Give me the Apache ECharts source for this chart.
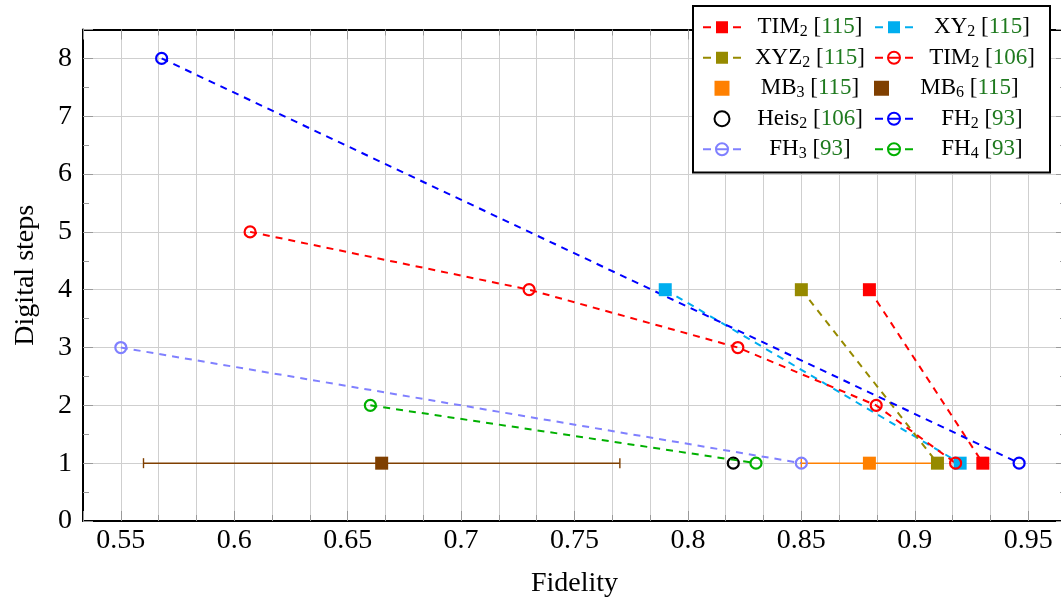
<!DOCTYPE html>
<html>
<head>
<meta charset="utf-8">
<script src="https://cdn.jsdelivr.net/npm/echarts@6/dist/echarts.min.js"></script>
<style>html,body{margin:0;padding:0;background:#fff}#c{width:1061px;height:597px}</style>
</head>
<body>
<div id="c"></div>
<script>
// ---- data (Fidelity, Digital steps) ----
const TIM2_115 = [[0.88, 4], [0.93, 1]];
const XY2_115 = [[0.79, 4], [0.92, 1]];
const XYZ2_115 = [[0.85, 4], [0.91, 1]];
const TIM2_106 = [[0.607, 5], [0.73, 4], [0.822, 3], [0.883, 2], [0.918, 1]];
const MB3_115 = [[0.88, 1]];
const MB3_err = [[0.85, 0.91, 1]];     // [low, high, steps]
const MB6_115 = [[0.665, 1]];
const MB6_err = [[0.56, 0.77, 1]];
const HEIS2_106 = [[0.82, 1]];
const FH2_93 = [[0.568, 8], [0.946, 1]];
const FH3_93 = [[0.55, 3], [0.85, 1]];
const FH4_93 = [[0.66, 2], [0.83, 1]];

// legend labels
const seriesNames = ['TIM2 [115]', 'XY2 [115]', 'XYZ2 [115]', 'TIM2 [106]', 'MB3 [115]', 'MB6 [115]', 'Heis2 [106]', 'FH2 [93]', 'FH3 [93]', 'FH4 [93]'];
const labelMain = ['TIM', 'XY', 'XYZ', 'TIM', 'MB', 'MB', 'Heis', 'FH', 'FH', 'FH'];
const labelSub = ['2', '2', '2', '2', '3', '6', '2', '2', '3', '4'];
const labelRef = ['115', '115', '115', '106', '115', '115', '106', '93', '93', '93'];

// axis settings
const xMin = 0.533333, xMax = 0.966667;
const yMin = 0, yMax = 8.5;

const FONT = '"Liberation Serif", "Times New Roman", serif';
const C = {
  red: '#ff0000', cyan: '#00aeef', olive: '#968a00', orange: '#ff8000',
  brown: '#7f3f00', black: '#000000', blue: '#0000ff', violet: '#8080ff', green: '#00b000'
};
const dash = [7, 6];
const SQUARE_ICON = 'path://M0 0H10V10H0Z';

function squareLine(name, data, color) {
  return {
    name, type: 'line', data, symbol: 'rect', symbolSize: 13, showSymbol: true,
    lineStyle: { color, width: 2, type: dash },
    itemStyle: { color, borderWidth: 0, opacity: 1 }, emphasis: { disabled: true }
  };
}
function circleLine(name, data, color) {
  return {
    name, type: 'line', data, symbol: 'circle', symbolSize: 11, showSymbol: true,
    lineStyle: { color, width: 2, type: dash },
    itemStyle: { color: 'rgba(255,255,255,0)', borderColor: color, borderWidth: 2.2, opacity: 1 },
    emphasis: { disabled: true }
  };
}
function errBar(data, color) {
  return {
    type: 'custom', data, z: 1, silent: true,
    renderItem: function (params, api) {
      const lo = api.coord([api.value(0), api.value(2)]);
      const hi = api.coord([api.value(1), api.value(2)]);
      const h = 5;
      const st = { stroke: color, lineWidth: 1.4 };
      return {
        type: 'group', children: [
          { type: 'line', shape: { x1: lo[0], y1: lo[1], x2: hi[0], y2: hi[1] }, style: st },
          { type: 'line', shape: { x1: lo[0], y1: lo[1] - h, x2: lo[0], y2: lo[1] + h }, style: st },
          { type: 'line', shape: { x1: hi[0], y1: hi[1] - h, x2: hi[0], y2: hi[1] + h }, style: st }
        ]
      };
    }
  };
}

const chart = echarts.init(document.getElementById('c'), null, { renderer: 'canvas' });
const tickStyle = { color: '#9a9a9a', width: 1 };
const gridLine = { color: '#cfcfcf', width: 1 };

const legendData = seriesNames.map(function (n, i) {
  return (i === 4 || i === 5) ? { name: n, icon: SQUARE_ICON } : { name: n };
});

const option = {
  animation: false,
  backgroundColor: '#ffffff',
  grid: { left: 83, top: 29.5, width: 983, height: 491.5, outerBoundsMode: 'none', containLabel: false },
  xAxis: [{
    type: 'value', position: 'bottom', min: xMin, max: xMax, splitNumber: 8,
    axisLine: { show: true, onZero: false, lineStyle: { color: '#000', width: 2 } },
    axisTick: { show: true, inside: true, length: 10, lineStyle: tickStyle },
    minorTick: { show: true, splitNumber: 3, length: 6, lineStyle: tickStyle },
    splitLine: { show: true, lineStyle: gridLine },
    minorSplitLine: { show: true, lineStyle: gridLine },
    axisLabel: { show: true, showMinLabel: false, showMaxLabel: false, margin: 6, fontSize: 28, fontFamily: FONT, color: '#000' },
    name: 'Fidelity', nameLocation: 'middle', nameGap: 49,
    nameTextStyle: { fontSize: 28, fontFamily: FONT, color: '#000' }
  }, {
    type: 'value', position: 'top', min: xMin, max: xMax, splitNumber: 8,
    axisLine: { show: true, onZero: false, lineStyle: { color: '#000', width: 2 } },
    axisTick: { show: true, inside: true, length: 10, lineStyle: tickStyle },
    minorTick: { show: true, splitNumber: 3, length: 6, lineStyle: tickStyle },
    splitLine: { show: false }, axisLabel: { show: false }
  }],
  yAxis: [{
    type: 'value', position: 'left', min: yMin, max: yMax, interval: 1,
    axisLine: { show: true, onZero: false, lineStyle: { color: '#000', width: 2 } },
    axisTick: { show: true, inside: true, length: 10, lineStyle: tickStyle },
    minorTick: { show: true, splitNumber: 2, length: 6, lineStyle: tickStyle },
    splitLine: { show: true, lineStyle: gridLine },
    axisLabel: { show: true, showMaxLabel: false, margin: 11, fontSize: 28, fontFamily: FONT, color: '#000' },
    name: 'Digital steps', nameLocation: 'middle', nameGap: 43, nameRotate: 90,
    nameTextStyle: { fontSize: 28, fontFamily: FONT, color: '#000' }
  }, {
    type: 'value', position: 'right', min: yMin, max: yMax, interval: 1,
    axisLine: { show: true, onZero: false, lineStyle: { color: '#000', width: 2 } },
    axisTick: { show: true, inside: true, length: 10, lineStyle: tickStyle },
    minorTick: { show: true, splitNumber: 2, length: 6, lineStyle: tickStyle },
    splitLine: { show: false }, axisLabel: { show: false }
  }],
  legend: {
    left: 693, top: 6, width: 360, orient: 'horizontal',
    padding: [6, 4, 8, 9], itemGap: 0, itemWidth: 38, itemHeight: 15,
    backgroundColor: '#ffffff', borderColor: '#000', borderWidth: 2, borderRadius: 0,
    selectedMode: false,
    lineStyle: { type: [8, 6, 10, 6], width: 2 },
    data: legendData,
    formatter: function (name) {
      const i = seriesNames.indexOf(name);
      return '{n|' + labelMain[i] + '}{s|' + labelSub[i] + '}{n| [}{c|' + labelRef[i] + '}{n|]}';
    },
    textStyle: {
      width: 128, lineHeight: 30.5, fontSize: 23, fontFamily: FONT, color: '#000',
      rich: {
        n: { align: 'center', fontSize: 23, fontFamily: FONT, color: '#000' },
        s: { align: 'center', fontSize: 16, fontFamily: FONT, color: '#000', padding: [10, 0, 0, 0] },
        c: { align: 'center', fontSize: 23, fontFamily: FONT, color: '#1f7a1f' }
      }
    }
  },
  series: [
    squareLine(seriesNames[0], TIM2_115, C.red),
    squareLine(seriesNames[1], XY2_115, C.cyan),
    squareLine(seriesNames[2], XYZ2_115, C.olive),
    circleLine(seriesNames[3], TIM2_106, C.red),
    errBar(MB3_err, C.orange),
    { name: seriesNames[4], type: 'scatter', data: MB3_115, symbol: 'rect', symbolSize: 13, itemStyle: { color: C.orange, opacity: 1 }, emphasis: { disabled: true } },
    errBar(MB6_err, C.brown),
    { name: seriesNames[5], type: 'scatter', data: MB6_115, symbol: 'rect', symbolSize: 13, itemStyle: { color: C.brown, opacity: 1 }, emphasis: { disabled: true } },
    { name: seriesNames[6], type: 'scatter', data: HEIS2_106, symbol: 'circle', symbolSize: 11, itemStyle: { color: 'rgba(255,255,255,0)', borderColor: C.black, borderWidth: 2.2, opacity: 1 }, emphasis: { disabled: true } },
    circleLine(seriesNames[7], FH2_93, C.blue),
    circleLine(seriesNames[8], FH3_93, C.violet),
    circleLine(seriesNames[9], FH4_93, C.green)
  ]
};
chart.setOption(option);
</script>
</body>
</html>
